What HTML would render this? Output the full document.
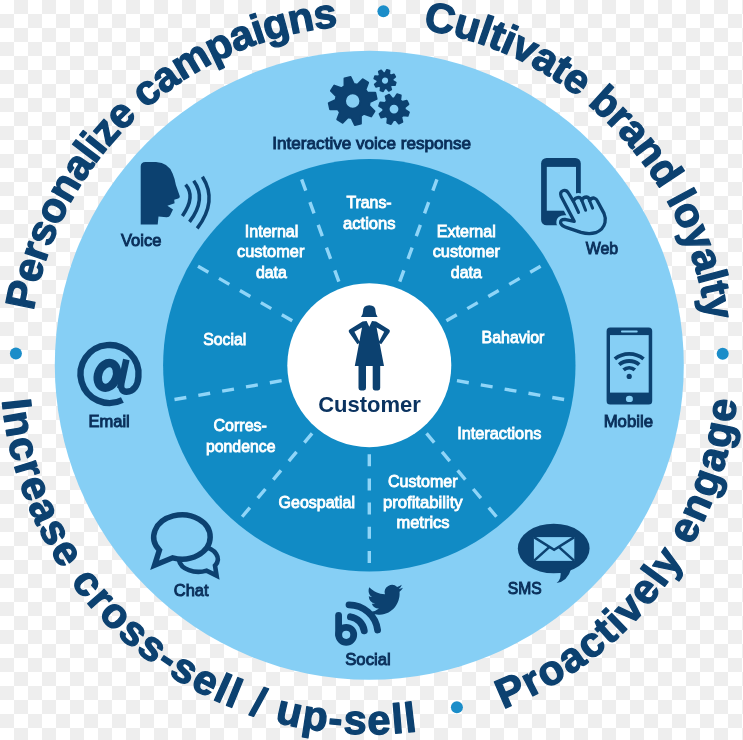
<!DOCTYPE html>
<html><head><meta charset="utf-8"><title>Customer diagram</title>
<style>
html,body{margin:0;padding:0;background:#fff;}
body{width:743px;height:740px;overflow:hidden;font-family:"Liberation Sans",sans-serif;}
svg{display:block;will-change:transform;}
text{font-family:"Liberation Sans",sans-serif;}
.lab{font-size:16.8px;fill:#0a2f5a;stroke:#0a2f5a;stroke-width:.95px;text-anchor:middle;}
.in{font-size:16.3px;fill:#fff;stroke:#fff;stroke-width:.85px;text-anchor:middle;}
.big{font-size:41.5px;font-weight:bold;fill:#0c4170;stroke:#0c4170;stroke-width:1.3px;stroke-linejoin:round;}
</style></head><body>
<svg width="743" height="740" viewBox="0 0 743 740">
<defs>
<pattern id="chk" width="28" height="28" patternUnits="userSpaceOnUse">
<rect width="28" height="28" fill="#fff"/><rect x="14" y="0" width="14" height="14" fill="#eeeeee"/><rect x="0" y="14" width="14" height="14" fill="#eeeeee"/>
</pattern>
<radialGradient id="g1" cx="369.3" cy="365.2" r="314.5" gradientUnits="userSpaceOnUse">
<stop offset="0" stop-color="#86cff5"/><stop offset="1" stop-color="#86cff5"/>
</radialGradient>
<radialGradient id="g2" cx="369.3" cy="365.2" r="206.2" gradientUnits="userSpaceOnUse">
<stop offset="0" stop-color="#118bc5"/><stop offset="1" stop-color="#118bc5"/>
</radialGradient>

<path id="pt" d="M29.30000000000001,365.2 A340,340 0 0 1 709.3,365.2"/>
<path id="pb" d="M0.30000000000001137,365.2 A369,369 0 0 0 738.3,365.2"/>
</defs>
<rect width="743" height="740" fill="url(#chk)"/>
<circle cx="369.3" cy="365.2" r="314.5" fill="url(#g1)"/>
<circle cx="369.3" cy="365.2" r="206.2" fill="url(#g2)"/>
<line x1="399.74" y1="281.57" x2="437.02" y2="179.14" stroke="#8fd5f8" stroke-width="3.4" stroke-dasharray="12 12.2"/>
<line x1="446.38" y1="320.70" x2="540.77" y2="266.20" stroke="#8fd5f8" stroke-width="3.4" stroke-dasharray="12 12.2"/>
<line x1="456.95" y1="380.65" x2="564.29" y2="399.58" stroke="#8fd5f8" stroke-width="3.4" stroke-dasharray="12 12.2"/>
<line x1="426.51" y1="433.38" x2="496.57" y2="516.88" stroke="#8fd5f8" stroke-width="3.4" stroke-dasharray="12 12.2"/>
<line x1="369.30" y1="454.20" x2="369.30" y2="563.20" stroke="#8fd5f8" stroke-width="3.4" stroke-dasharray="12 12.2"/>
<line x1="312.09" y1="433.38" x2="242.03" y2="516.88" stroke="#8fd5f8" stroke-width="3.4" stroke-dasharray="12 12.2"/>
<line x1="281.65" y1="380.65" x2="174.31" y2="399.58" stroke="#8fd5f8" stroke-width="3.4" stroke-dasharray="12 12.2"/>
<line x1="292.22" y1="320.70" x2="197.83" y2="266.20" stroke="#8fd5f8" stroke-width="3.4" stroke-dasharray="12 12.2"/>
<line x1="338.86" y1="281.57" x2="301.58" y2="179.14" stroke="#8fd5f8" stroke-width="3.4" stroke-dasharray="12 12.2"/>
<circle cx="369.3" cy="365.2" r="82" fill="#fff"/>
<text class="big" letter-spacing="-0.55"><textPath href="#pt" startOffset="54.3">Personalize campaigns</textPath></text>
<text class="big" letter-spacing="-0.45"><textPath href="#pt" startOffset="587.5">Cultivate brand loyalty</textPath></text>
<text class="big" letter-spacing="1.8"><textPath href="#pb" startOffset="35.1">Increase cross-sell / up-sell</textPath></text>
<text class="big" letter-spacing="1.7"><textPath href="#pb" startOffset="716.5">Proactively engage</textPath></text>
<circle cx="15.9" cy="353.6" r="6" fill="#1b8dc9"/>
<circle cx="383.4" cy="11.2" r="6" fill="#1b8dc9"/>
<circle cx="722.7" cy="353.8" r="6" fill="#1b8dc9"/>
<circle cx="456.9" cy="707.3" r="6" fill="#1b8dc9"/>
<path d="M367.61,92.84 L375.26,92.82 L376.61,98.88 L369.66,102.10 L369.02,105.77 L374.44,111.17 L371.11,116.40 L363.92,113.77 L360.86,115.91 L360.88,123.56 L354.82,124.91 L351.60,117.96 L347.93,117.32 L342.53,122.74 L337.30,119.41 L339.93,112.22 L337.79,109.16 L330.14,109.18 L328.79,103.12 L335.74,99.90 L336.38,96.23 L330.96,90.83 L334.29,85.60 L341.48,88.23 L344.54,86.09 L344.52,78.44 L350.58,77.09 L353.80,84.04 L357.47,84.68 L362.87,79.26 L368.10,82.59 L365.47,89.78 Z M360.40,101.00 A7.7,7.7 0 1 0 345.00,101.00 A7.7,7.7 0 1 0 360.40,101.00 Z" fill="#0c4170" fill-rule="evenodd" stroke="#0c4170" stroke-width="2" stroke-linejoin="round"/>
<path d="M392.80,80.78 L395.83,82.52 L394.98,85.24 L391.49,84.93 L390.39,86.24 L391.30,89.62 L388.78,90.93 L386.53,88.25 L384.82,88.40 L383.08,91.43 L380.36,90.58 L380.67,87.09 L379.36,85.99 L375.98,86.90 L374.67,84.38 L377.35,82.13 L377.20,80.42 L374.17,78.68 L375.02,75.96 L378.51,76.27 L379.61,74.96 L378.70,71.58 L381.22,70.27 L383.47,72.95 L385.18,72.80 L386.92,69.77 L389.64,70.62 L389.33,74.11 L390.64,75.21 L394.02,74.30 L395.33,76.82 L392.65,79.07 Z M388.90,80.60 A3.9,3.9 0 1 0 381.10,80.60 A3.9,3.9 0 1 0 388.90,80.60 Z" fill="#0c4170" fill-rule="evenodd" stroke="#0c4170" stroke-width="1.6" stroke-linejoin="round"/>
<path d="M404.89,109.63 L408.99,112.17 L407.70,115.91 L402.91,115.38 L401.32,117.17 L402.43,121.87 L398.87,123.60 L395.86,119.84 L393.47,119.99 L390.93,124.09 L387.19,122.80 L387.72,118.01 L385.93,116.42 L381.23,117.53 L379.50,113.97 L383.26,110.96 L383.11,108.57 L379.01,106.03 L380.30,102.29 L385.09,102.82 L386.68,101.03 L385.57,96.33 L389.13,94.60 L392.14,98.36 L394.53,98.21 L397.07,94.11 L400.81,95.40 L400.28,100.19 L402.07,101.78 L406.77,100.67 L408.50,104.23 L404.74,107.24 Z M399.30,109.10 A5.3,5.3 0 1 0 388.70,109.10 A5.3,5.3 0 1 0 399.30,109.10 Z" fill="#0c4170" fill-rule="evenodd" stroke="#0c4170" stroke-width="1.8" stroke-linejoin="round"/>
<text class="lab" x="371.7" y="148.7" textLength="198.7" lengthAdjust="spacingAndGlyphs">Interactive voice response</text>
<text class="lab" x="141.2" y="246.1" textLength="40.4" lengthAdjust="spacingAndGlyphs">Voice</text>
<text class="lab" x="601.9" y="254" textLength="32.4" lengthAdjust="spacingAndGlyphs">Web</text>
<text class="lab" x="628.3" y="427.4" textLength="49.3" lengthAdjust="spacingAndGlyphs">Mobile</text>
<text class="lab" x="524.7" y="594" textLength="33.9" lengthAdjust="spacingAndGlyphs">SMS</text>
<text class="lab" x="368" y="665" textLength="45.6" lengthAdjust="spacingAndGlyphs">Social</text>
<text class="lab" x="191.2" y="595.9" textLength="34.8" lengthAdjust="spacingAndGlyphs">Chat</text>
<text class="lab" x="109.1" y="427.3" textLength="41.3" lengthAdjust="spacingAndGlyphs">Email</text>
<text class="in" x="369" y="208.4" textLength="45.2" lengthAdjust="spacingAndGlyphs">Trans-</text>
<text class="in" x="369.3" y="228.5" textLength="52.5" lengthAdjust="spacingAndGlyphs">actions</text>
<text class="in" x="271.6" y="237.2" textLength="53.5" lengthAdjust="spacingAndGlyphs">Internal</text>
<text class="in" x="270.7" y="257.4" textLength="67.3" lengthAdjust="spacingAndGlyphs">customer</text>
<text class="in" x="271.4" y="278" textLength="30.9" lengthAdjust="spacingAndGlyphs">data</text>
<text class="in" x="466.3" y="237.2" textLength="58.9" lengthAdjust="spacingAndGlyphs">External</text>
<text class="in" x="466.3" y="257.4" textLength="67.3" lengthAdjust="spacingAndGlyphs">customer</text>
<text class="in" x="466.3" y="278" textLength="30.9" lengthAdjust="spacingAndGlyphs">data</text>
<text class="in" x="224.8" y="345.2" textLength="43" lengthAdjust="spacingAndGlyphs">Social</text>
<text class="in" x="513" y="343.4" textLength="62.8" lengthAdjust="spacingAndGlyphs">Bahavior</text>
<text class="in" x="240.2" y="430.6" textLength="53.4" lengthAdjust="spacingAndGlyphs">Corres-</text>
<text class="in" x="240.7" y="451.6" textLength="69.6" lengthAdjust="spacingAndGlyphs">pondence</text>
<text class="in" x="499.3" y="439.3" textLength="84.2" lengthAdjust="spacingAndGlyphs">Interactions</text>
<text class="in" x="316.8" y="508.1" textLength="76.4" lengthAdjust="spacingAndGlyphs">Geospatial</text>
<text class="in" x="422.8" y="487.2" textLength="69.6" lengthAdjust="spacingAndGlyphs">Customer</text>
<text class="in" x="422.8" y="508.1" textLength="79.8" lengthAdjust="spacingAndGlyphs">profitability</text>
<text class="in" x="423" y="527.6" textLength="53.1" lengthAdjust="spacingAndGlyphs">metrics</text>
<text x="369.5" y="412.4" text-anchor="middle" font-size="22" font-weight="bold" fill="#0b3360">Customer</text>
<g id="voice" fill="#0c4170">
<path d="M140.7,224.6 L140.7,166.5 Q140.7,161.9 145.5,161.9 L156,161.9 Q168.5,162.6 172.6,173.4 Q175,179 175.9,185 L179.8,196.3 Q180.2,197.8 178.3,198.4 L174.2,199.8 L174.6,203.2 L167.4,205.7 L173,209.6 L170.2,215.2 Q169.3,217.4 166.5,217.2 L158.5,216.4 L157.7,224.6 Z"/>
<g fill="none" stroke="#0c4170" stroke-width="3.5" stroke-linecap="butt">
<path d="M185.6,184.7 Q196,196.7 182.4,215.9"/>
<path d="M193.7,180.7 Q207,198.9 189.5,221.9"/>
<path d="M202.4,176.7 Q218,200.85 197.2,228.4"/>
</g></g>
<g id="web">
<rect x="541.1" y="158" width="39.7" height="67.3" rx="5.5" fill="#0c4170"/>
<rect x="546.8" y="166.9" width="29.2" height="43.8" fill="#86cff5"/>
<path d="M574.2,221.3 L561.2,196.6 Q559.3,191.6 563.4,190.5 Q566.6,189.8 568.4,193 L573.3,201.1 Q575,197.5 578.4,197.3 Q581.2,197.4 581.8,200.4 Q583.2,197 586.6,197 Q589.2,197.3 589.6,200.8 Q591,197.8 594,198 Q596.6,198.6 598.2,202.5 L604,213.4 Q606,218 605,222.5 Q603.5,229.5 595.7,232.7 Q589,234.6 581,232.4 L567.6,227.9 Q561.5,226 560.6,223 Q560.2,219.3 564.8,219.4 Z" fill="#86cff5" stroke="#86cff5" stroke-width="8.4" stroke-linejoin="round"/>
<path d="M574.2,221.3 L561.2,196.6 Q559.3,191.6 563.4,190.5 Q566.6,189.8 568.4,193 L573.3,201.1 Q575,197.5 578.4,197.3 Q581.2,197.4 581.8,200.4 Q583.2,197 586.6,197 Q589.2,197.3 589.6,200.8 Q591,197.8 594,198 Q596.6,198.6 598.2,202.5 L604,213.4 Q606,218 605,222.5 Q603.5,229.5 595.7,232.7 Q589,234.6 581,232.4 L567.6,227.9 Q561.5,226 560.6,223 Q560.2,219.3 564.8,219.4 Z" fill="#86cff5" stroke="#0c4170" stroke-width="3.3" stroke-linejoin="round"/>
<g fill="none" stroke="#0c4170" stroke-width="3" stroke-linecap="round">
<path d="M573.3,201.1 L578.6,212.5"/><path d="M581.8,200.4 L585.6,210.3"/><path d="M589.6,200.8 L592.6,208.1"/>
</g></g>
<g id="mobile">
<rect x="606.6" y="327.6" width="45.6" height="76.9" rx="3.5" fill="#0c4170"/>
<rect x="610" y="335.1" width="38.7" height="57.5" fill="#86cff5"/>
<rect x="621" y="330.6" width="16.7" height="1.9" rx="0.9" fill="#86cff5"/>
<ellipse cx="629.4" cy="398.9" rx="3.5" ry="3.2" fill="#86cff5"/>
<circle cx="629.2" cy="376.4" r="2.6" fill="#0c4170"/>
<g fill="none" stroke="#0c4170" stroke-width="3.8" stroke-linecap="butt">
<path d="M623.54,369.86 A8.8,8.8 0 0 1 634.86,369.86"/>
<path d="M619.17,364.65 A15.6,15.6 0 0 1 639.23,364.65"/>
<path d="M614.85,358.88 A22.8,22.8 0 0 1 643.55,358.88"/>
</g></g>
<g id="sms">
<ellipse cx="553.7" cy="548.5" rx="35.9" ry="24.8" fill="#0c4170"/>
<path d="M560.3,570 Q562,579 556.6,583 Q567.5,581.5 571.5,568 Z" fill="#0c4170"/>
<rect x="533.9" y="537.1" width="40.4" height="23.8" fill="#86cff5"/>
<g fill="none" stroke="#0c4170" stroke-width="2.6">
<path d="M533.9,537.1 L554.1,549.8 L574.3,537.1"/>
<path d="M533.9,560.9 L549.5,546.9"/><path d="M574.3,560.9 L558.7,546.9"/>
</g></g>
<g id="social" fill="none" stroke="#0c4170" stroke-linecap="round">
<path d="M338.6,615.5 L338.6,634.6" stroke-width="6.8"/>
<circle cx="346.2" cy="634.8" r="7.5" stroke-width="6.8"/>
<path d="M350.5,616.9 A16.3,16.3 0 0 1 364.2,630.7" stroke-width="7"/>
<path d="M349,604.8 A29,29 0 0 1 377.6,630" stroke-width="6.8"/>
</g>
<g transform="translate(385.6,599.8) rotate(-3) scale(1.5) translate(-12,-12)">
<path fill="#0c4170" d="M23.953 4.57a10 10 0 01-2.825.775 4.958 4.958 0 002.163-2.723c-.951.555-2.005.959-3.127 1.184a4.92 4.92 0 00-8.384 4.482C7.69 8.095 4.067 6.13 1.64 3.162a4.822 4.822 0 00-.666 2.475c0 1.71.87 3.213 2.188 4.096a4.904 4.904 0 01-2.228-.616v.06a4.923 4.923 0 003.946 4.827 4.996 4.996 0 01-2.212.085 4.936 4.936 0 004.604 3.417 9.867 9.867 0 01-6.102 2.105c-.39 0-.779-.023-1.17-.067a13.995 13.995 0 007.557 2.209c9.053 0 13.998-7.496 13.998-13.985 0-.21 0-.42-.015-.63A9.935 9.935 0 0024 4.59z"/>
</g>
<g id="chat" stroke="#0c4170" stroke-linejoin="miter" stroke-miterlimit="6">
<path d="M206.6,570.6 A19.4,12.8 0 1 1 215,565.6 L216.6,575.6 Z" fill="#86cff5" stroke-width="4.6"/>
<path d="M172.6,557.8 A28.2,22.1 0 1 0 159.4,550.2 L154.6,565.3 Z" fill="#86cff5" stroke-width="5.5"/>
</g>
<g id="email" fill="none" stroke="#0c4170">
<path d="M122.4,400 A29,29 0 1 1 138.4,376.8 C137.8,385.5 133.5,391.8 126.5,391.7 Q120.5,391.3 121,384" stroke-width="6.4" stroke-linecap="butt" stroke-linejoin="round"/>
<path d="M126.3,359.5 L120.2,388.5" stroke-width="6.6" stroke-linecap="butt"/>
<ellipse cx="107.4" cy="375.4" rx="9.2" ry="12.8" transform="rotate(20 107.4 375.4)" stroke-width="8.4"/>
</g>
<g id="woman" fill="#0c4170">
<path d="M369.3,305.2 Q375.6,305.2 375.6,311.6 Q375.6,314.8 377.6,316.9 L361,316.9 Q363,314.8 363,311.6 Q363,305.2 369.3,305.2 Z"/>
<path d="M362.5,321.6 L366.6,321 L369.3,326.8 L372,321 L376.1,321.6 L389,329.4 Q390.6,330.6 389.6,332.3 L381.2,344.3 L378.6,342.4 L384.2,331.8 L376.6,327.6 L384,366 L354.8,366 L362,327.6 L354.4,331.8 L360,342.4 L357.4,344.3 L349,332.3 Q348,330.6 349.6,329.4 Z"/>
<path d="M358.5,365 L366,365 L366,388 Q366,390.4 363.8,390.4 L360.7,390.4 Q358.5,390.4 358.5,388 Z"/>
<path d="M372.7,365 L380.2,365 L380.2,388 Q380.2,390.4 378,390.4 L374.9,390.4 Q372.7,390.4 372.7,388 Z"/>
</g>
</svg></body></html>
